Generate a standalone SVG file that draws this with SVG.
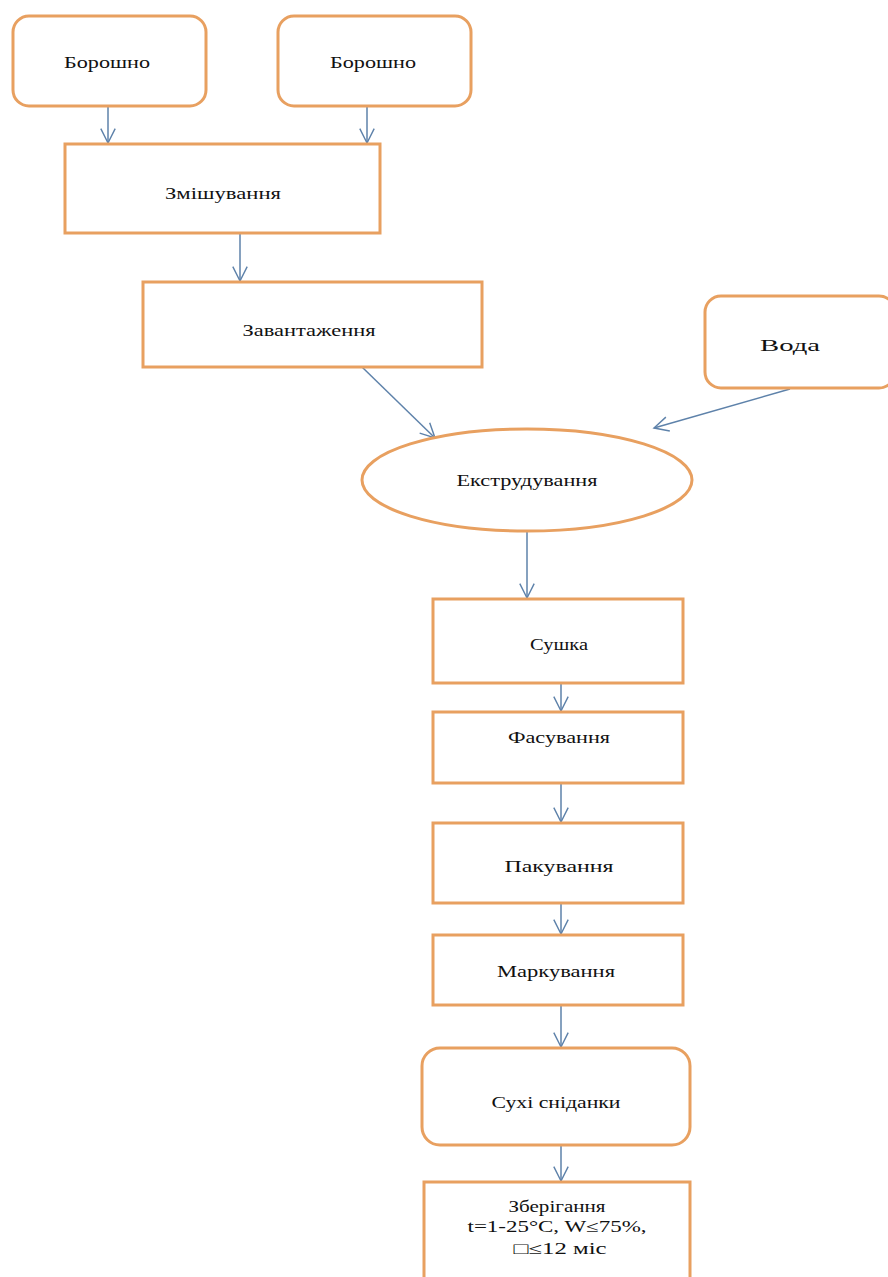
<svg xmlns="http://www.w3.org/2000/svg" width="888" height="1277" viewBox="0 0 888 1277">
<defs>
<style>
.n{fill:#fff;stroke:#E8A060;stroke-width:3}
.t{font-family:"Liberation Serif",serif;font-size:16px;fill:#111;text-anchor:middle;dominant-baseline:central}
.c{stroke:#5E82AA;stroke-width:1.5;fill:none}
</style>
<marker id="a" viewBox="0 0 20 20" refX="18" refY="10" markerWidth="18" markerHeight="18" markerUnits="userSpaceOnUse" orient="auto">
<path d="M2,2 L18,10 L2,18" fill="none" stroke="#5E82AA" stroke-width="1.6"/>
</marker>
</defs>
<rect width="888" height="1277" fill="#fff"/>
<g id="connectors">
<line class="c" x1="108" y1="106" x2="108" y2="143" marker-end="url(#a)"/>
<line class="c" x1="367" y1="106" x2="367" y2="143" marker-end="url(#a)"/>
<line class="c" x1="240" y1="233" x2="240" y2="281" marker-end="url(#a)"/>
<line class="c" x1="362" y1="367" x2="435" y2="438" marker-end="url(#a)"/>
<line class="c" x1="790" y1="389" x2="654" y2="428" marker-end="url(#a)"/>
<line class="c" x1="527" y1="532" x2="527" y2="598" marker-end="url(#a)"/>
<line class="c" x1="561" y1="683" x2="561" y2="711" marker-end="url(#a)"/>
<line class="c" x1="561" y1="783" x2="561" y2="822" marker-end="url(#a)"/>
<line class="c" x1="561" y1="903" x2="561" y2="934" marker-end="url(#a)"/>
<line class="c" x1="561" y1="1005" x2="561" y2="1047" marker-end="url(#a)"/>
<line class="c" x1="561" y1="1145" x2="561" y2="1181" marker-end="url(#a)"/>
</g>
<g id="n1"><rect class="n" x="13" y="16" width="193" height="90" rx="16"/><text class="t" x="107" y="62" textLength="86" lengthAdjust="spacingAndGlyphs">Борошно</text></g>
<g id="n2"><rect class="n" x="278" y="16" width="193" height="90" rx="16"/><text class="t" x="373" y="62" textLength="86" lengthAdjust="spacingAndGlyphs">Борошно</text></g>
<g id="n3"><rect class="n" x="65" y="144" width="315" height="89"/><text class="t" x="223" y="193" textLength="116" lengthAdjust="spacingAndGlyphs">Змішування</text></g>
<g id="n4"><rect class="n" x="143" y="282" width="339" height="85"/><text class="t" x="309" y="330" textLength="133" lengthAdjust="spacingAndGlyphs">Завантаження</text></g>
<g id="n5"><rect class="n" x="705" y="296" width="190" height="92" rx="16"/><text class="t" x="790" y="345" textLength="60" lengthAdjust="spacingAndGlyphs">Вода</text></g>
<g id="n6"><ellipse class="n" cx="527" cy="480" rx="165" ry="51"/><text class="t" x="527" y="480" textLength="141" lengthAdjust="spacingAndGlyphs">Екструдування</text></g>
<g id="n7"><rect class="n" x="433" y="599" width="250" height="84"/><text class="t" x="559" y="644" textLength="58" lengthAdjust="spacingAndGlyphs">Сушка</text></g>
<g id="n8"><rect class="n" x="433" y="712" width="250" height="71"/><text class="t" x="559" y="737" textLength="102" lengthAdjust="spacingAndGlyphs">Фасування</text></g>
<g id="n9"><rect class="n" x="433" y="823" width="250" height="80"/><text class="t" x="559" y="866" textLength="109" lengthAdjust="spacingAndGlyphs">Пакування</text></g>
<g id="n10"><rect class="n" x="433" y="935" width="250" height="70"/><text class="t" x="556" y="971" textLength="118" lengthAdjust="spacingAndGlyphs">Маркування</text></g>
<g id="n11"><rect class="n" x="422" y="1048" width="268" height="97" rx="18"/><text class="t" x="556" y="1102" textLength="129" lengthAdjust="spacingAndGlyphs">Сухі сніданки</text></g>
<g id="n12"><rect class="n" x="424" y="1182" width="266" height="100"/>
<text class="t" x="557" y="1206" textLength="97" lengthAdjust="spacingAndGlyphs">Зберігання</text>
<text class="t" x="557" y="1226" textLength="179" lengthAdjust="spacingAndGlyphs">t=1-25°C, W≤75%,</text>
<text class="t" x="560" y="1248" textLength="93" lengthAdjust="spacingAndGlyphs">□≤12 міс</text></g>
</svg>
